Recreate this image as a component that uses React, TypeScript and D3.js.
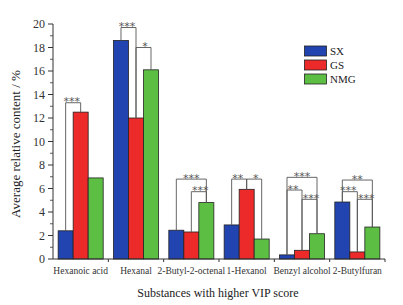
import React from "react";
import * as d3 from "d3";

const categories = ["Hexanoic acid", "Hexanal", "2-Butyl-2-octenal", "1-Hexanol", "Benzyl alcohol", "2-Butylfuran"];
const seriesNames = ["SX", "GS", "NMG"];
const sxValues = [2.4, 18.6, 2.45, 2.9, 0.35, 4.85];
const gsValues = [12.5, 12.0, 2.3, 5.93, 0.74, 0.6];
const nmgValues = [6.9, 16.1, 4.8, 1.7, 2.15, 2.72];
const seriesColors = ["#2244b0", "#ec2a2a", "#5cbf44"];
const yTicks = [0, 2, 4, 6, 8, 10, 12, 14, 16, 18, 20];
const yMinorTicks = [1, 3, 5, 7, 9, 11, 13, 15, 17, 19];

// significance brackets: category index, from series, to series, height, label
const sigCat = [0, 1, 1, 2, 2, 3, 3, 4, 4, 4, 5, 5, 5];
const sigFrom = [0, 0, 1, 0, 1, 0, 1, 0, 0, 1, 0, 0, 1];
const sigTo = [1, 1, 2, 2, 2, 1, 2, 2, 1, 2, 2, 1, 2];
const sigLevel = [13.3, 19.7, 18.0, 6.8, 5.73, 6.8, 6.8, 6.95, 5.87, 5.08, 6.72, 5.73, 5.08];
const sigLabel = ["***", "***", "*", "***", "***", "**", "*", "***", "**", "***", "**", "***", "***"];

const W = 403, H = 305;
const left = 53, right = 385, top = 24, bottom = 259;
const font = "'Liberation Serif', 'Times New Roman', serif";

export default function App() {
  const values = [sxValues, gsValues, nmgValues];
  const x0 = d3.scaleBand<string>().domain(categories).range([left, right]).padding(0);
  const x1 = d3.scaleBand<string>().domain(seriesNames).range([0, x0.bandwidth()]).paddingInner(0).paddingOuter(0.343);
  const y = d3.scaleLinear().domain([0, 20]).range([bottom, top]);
  const barCenter = (ci: number, si: number) => (x0(categories[ci]) as number) + (x1(seriesNames[si]) as number) + x1.bandwidth() / 2;
  const lineColor = "#555";

  return (
    <div style={{ position: "absolute", left: 0, top: 0 }}>
      <svg width={W} height={H} style={{ display: "block", background: "#fff" }}>
        {/* bars */}
        {categories.map((c, ci) =>
          seriesNames.map((s, si) => {
            const v = values[si][ci];
            return (
              <rect key={c + s}
                x={(x0(c) as number) + (x1(s) as number)}
                y={y(v)}
                width={x1.bandwidth()}
                height={y(0) - y(v)}
                fill={seriesColors[si]}
                stroke="#222" strokeWidth={0.8} />
            );
          })
        )}
        {/* significance brackets */}
        {sigCat.map((ci, i) => {
          const xa = barCenter(ci, sigFrom[i]);
          const xb = barCenter(ci, sigTo[i]);
          const yl = y(sigLevel[i]);
          const ya = y(values[sigFrom[i]][ci]);
          const yb = y(values[sigTo[i]][ci]);
          const adjacent = sigTo[i] - sigFrom[i] === 1;
          const dx = adjacent ? (sigFrom[i] === 0 ? -1.5 : 1.5) : 0;
          return (
            <g key={"sig" + i}>
              <path d={`M${xa},${ya}V${yl}H${xb}V${yb}`} fill="none" stroke={lineColor} strokeWidth={0.9} />
              <text x={(xa + xb) / 2 + dx} y={yl + 2.5} textAnchor="middle" fontFamily="'DejaVu Sans', sans-serif" fontSize={11} fill="#555">{sigLabel[i]}</text>
            </g>
          );
        })}
        {/* y axis */}
        <line x1={left} x2={left} y1={y(20)} y2={y(0)} stroke="#333" strokeWidth={1} />
        {yTicks.map(t => (
          <g key={"yt" + t}>
            <line x1={left - 5} x2={left} y1={y(t)} y2={y(t)} stroke="#333" strokeWidth={1} />
            <text x={left - 8} y={y(t) + 4} textAnchor="end" fontFamily={font} fontSize={12} fill="#333">{t}</text>
          </g>
        ))}
        {yMinorTicks.map(t => (
          <line key={"ym" + t} x1={left - 3} x2={left} y1={y(t)} y2={y(t)} stroke="#333" strokeWidth={0.8} />
        ))}
        {/* x axis */}
        <line x1={left} x2={right} y1={bottom} y2={bottom} stroke="#333" strokeWidth={1} />
        {categories.map((c, i) => (
          <g key={"xt" + c}>
            {i > 0 && <line x1={x0(c) as number} x2={x0(c) as number} y1={bottom} y2={bottom + 3} stroke="#333" strokeWidth={1} />}
            <text x={(x0(c) as number) + x0.bandwidth() / 2} y={bottom + 15} textAnchor="middle" fontFamily={font} fontSize={9.5} fill="#333">{c}</text>
          </g>
        ))}
        <line x1={right} x2={right} y1={bottom} y2={bottom + 3} stroke="#333" strokeWidth={1} />
        {/* axis titles */}
        <text x={218} y={297} textAnchor="middle" fontFamily={font} fontSize={12} fill="#222">Substances with higher VIP score</text>
        <text transform={`translate(20,144) rotate(-90)`} textAnchor="middle" fontFamily={font} fontSize={13} fill="#222">Average relative content / %</text>
        {/* legend */}
        {seriesNames.map((s, i) => (
          <g key={"lg" + s}>
            <rect x={304.5} y={46 + i * 14} width={22} height={10} fill={seriesColors[i]} stroke="#222" strokeWidth={0.8} />
            <text x={330} y={55 + i * 14} fontFamily={font} fontSize={11} fill="#222">{s}</text>
          </g>
        ))}
      </svg>
    </div>
  );
}
